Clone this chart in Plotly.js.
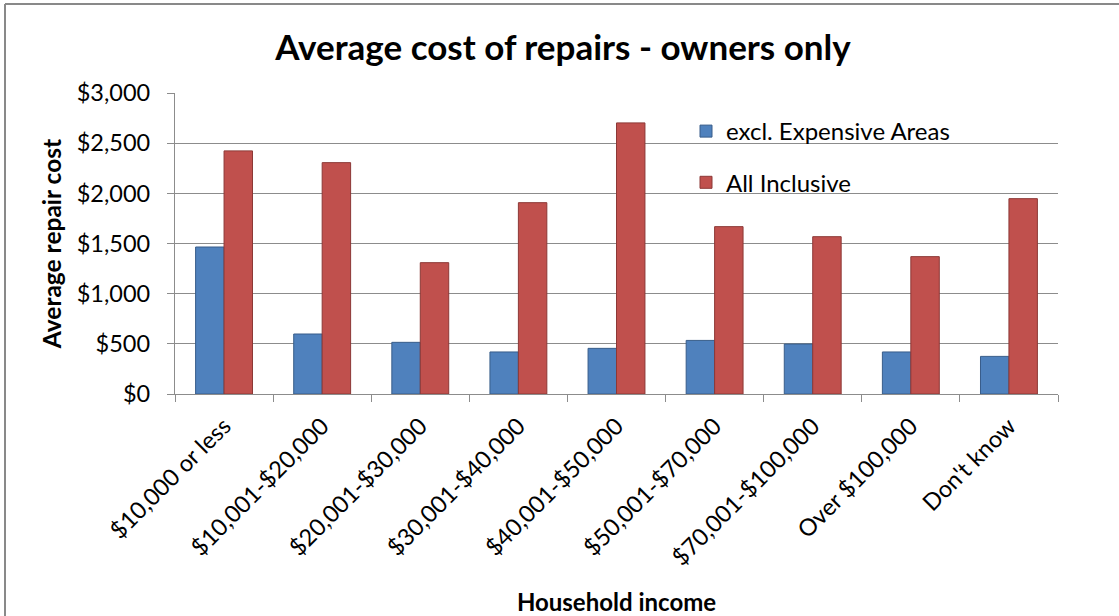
<!DOCTYPE html>
<html>
<head>
<meta charset="utf-8">
<script src="https://cdn.plot.ly/plotly-3.0.1.min.js"></script>
<style>
  html, body { margin: 0; padding: 0; background: #fff; }
  #chart { width: 1119px; height: 616px; }
</style>
</head>
<body>
<div id="chart"></div>
<script>
const categories = [
  "$10,000 or less",
  "$10,001-$20,000",
  "$20,001-$30,000",
  "$30,001-$40,000",
  "$40,001-$50,000",
  "$50,001-$70,000",
  "$70,001-$100,000",
  "Over $100,000",
  "Don't know"
];
const exclExpensive = [1465, 598, 515, 419, 455, 534, 498, 419, 375];
const allInclusive = [2423, 2306, 1309, 1907, 2702, 1668, 1568, 1369, 1947];
const seriesNames = ["excl. Expensive Areas", "All Inclusive"];
const yTickValues = [0, 500, 1000, 1500, 2000, 2500, 3000];

const FONT = "Lato, 'Open Sans', sans-serif";

// plot area in pixels
const W = 1119, H = 616;
const L = 175, R = 1058, T = 93, B = 394;
const px = x => (x - L) / (R - L);
const py = y => (B - y) / (B - T);

const traces = [
  {
    type: "bar",
    name: seriesNames[0],
    x: categories,
    y: exclExpensive,
    legendgroup: "a",
    marker: { color: "#4F81BD", line: { color: "#385D8A", width: 1 } },
    hoverinfo: "x+y+name"
  },
  {
    type: "bar",
    name: seriesNames[1],
    x: categories,
    y: allInclusive,
    legendgroup: "b",
    marker: { color: "#C0504D", line: { color: "#8C3836", width: 1 } },
    hoverinfo: "x+y+name"
  }
];

const layout = {
  width: W,
  height: H,
  margin: { l: L, r: W - R, t: T, b: H - B, pad: 0 },
  paper_bgcolor: "#ffffff",
  plot_bgcolor: "#ffffff",
  font: { family: FONT, size: 24, color: "#000000" },
  title: {
    text: "<b>Average cost of repairs - owners only</b>",
    font: { family: FONT, size: 35, color: "#000000" },
    x: px(563), xanchor: "center", xref: "paper",
    y: 1 - 48 / H, yanchor: "middle", yref: "container"
  },
  barmode: "group",
  bargap: 0.42,
  bargroupgap: 0,
  showlegend: true,
  legend: {
    x: px(686), xanchor: "left",
    y: py(109), yanchor: "top",
    bgcolor: "rgba(0,0,0,0)",
    borderwidth: 0,
    traceorder: "grouped",
    tracegroupgap: 17,
    font: { family: FONT, size: 24, color: "#000000" }
  },
  xaxis: {
    type: "category",
    tickangle: -45,
    tickson: "boundaries",
    ticks: "outside",
    ticklen: 7,
    tickcolor: "#8c8c8c",
    tickwidth: 1.3,
    ticklabelstandoff: 8,
    showline: true,
    linecolor: "#8c8c8c",
    linewidth: 1.3,
    showgrid: false,
    tickfont: { family: FONT, size: 23.5, color: "#000000" },
    title: {
      text: "<b>Household income</b>",
      font: { family: FONT, size: 24, color: "#000000" },
      standoff: 24
    },
    automargin: false
  },
  yaxis: {
    range: [0, 3000],
    tickvals: yTickValues,
    tickformat: "$,.0f",
    ticks: "outside",
    ticklen: 7,
    tickcolor: "#8c8c8c",
    tickwidth: 1.3,
    ticklabelstandoff: 12,
    showline: true,
    linecolor: "#8c8c8c",
    linewidth: 1.3,
    showgrid: true,
    gridcolor: "#8c8c8c",
    gridwidth: 1.3,
    zeroline: false,
    tickfont: { family: FONT, size: 23.5, color: "#000000" },
    title: {
      text: "<b>Average repair cost</b>",
      font: { family: FONT, size: 24.5, color: "#000000" },
      standoff: 8
    },
    automargin: false
  },
  separators: ".,",
  shapes: [
    // legend background box (covers gridlines only)
    {
      type: "rect", xref: "paper", yref: "paper", layer: "between",
      x0: px(670), x1: px(992), y0: py(212), y1: py(100),
      fillcolor: "#ffffff", line: { width: 0 }
    },
    // outer chart border (left and top)
    {
      type: "line", xref: "paper", yref: "paper", layer: "above",
      x0: px(5), x1: px(5), y0: py(4), y1: py(H + 10),
      line: { color: "#898989", width: 2 }
    },
    {
      type: "line", xref: "paper", yref: "paper", layer: "above",
      x0: px(5), x1: px(W + 10), y0: py(4), y1: py(4),
      line: { color: "#898989", width: 2 }
    }
  ]
};

Plotly.newPlot("chart", traces, layout, { displayModeBar: false, responsive: false });
</script>
</body>
</html>
